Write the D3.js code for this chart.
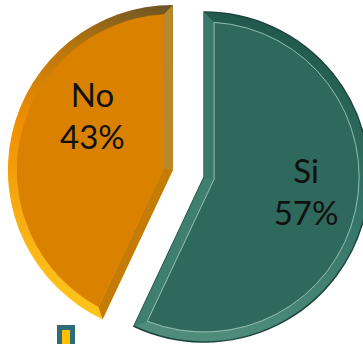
<!DOCTYPE html>
<html>
<head>
<meta charset="utf-8">
<script src="https://cdn.jsdelivr.net/npm/d3@7"></script>
<style>
  html, body { margin: 0; padding: 0; background: #fff; }
  svg { display: block; }
</style>
</head>
<body>
<div id="chart"></div>
<script>
const categories = ["Si", "No"];
const values = [57, 43];
const faceColors = ["#2F685C", "#DA8200"];

const WIDTH = 363, HEIGHT = 344;
const CENTER = [188.5, 173.5];
const RADIUS = 165;
const EXPLODE = 16;
const BEVEL = [10, 9];
// label anchor relative to each slice apex (angle in rad, distance px)
const LABEL_POS = [{ a: 98.4 * Math.PI / 180, d: 103 }, { a: 304 * Math.PI / 180, d: 97 }];

// bevel shading per slice: arc ring gradient + two straight edges
const SHADE = [
    { ring: [["0", "#21574B"], ["0.55", "#35766A"], ["1", "#4F8C7C"]], g: [[300, 20], [220, 340]],
      edge0: "#3A786A", edge1: "#3F7F70", rim: "#1C463D", line: "#B5D8CD" },
    { ring: [["0", "#6B5424"], ["0.22", "#B4740E"], ["0.5", "#EE8C00"], ["1", "#FFC41C"]], g: [[170, 5], [60, 300]],
      edge0: "#C47C06", edge1: "#B68A2A", rim: null, line: null }
];

const svg = d3.select("#chart").append("svg")
    .attr("width", WIDTH)
    .attr("height", HEIGHT);

const defs = svg.append("defs");

const pie = d3.pie().sort(null).value(d => d);
const arcs = pie(values);

function pt(c, a, r) {
    return [c[0] + r * Math.sin(a), c[1] - r * Math.cos(a)];
}

arcs.forEach((s, i) => {
    const sh = SHADE[i];
    const bis = (s.startAngle + s.endAngle) / 2;
    const half = (s.endAngle - s.startAngle) / 2;
    const A = pt(CENTER, bis, EXPLODE);
    const d = BEVEL[i];
    const r = RADIUS;
    const ri = r - d;
    const e = d / Math.sin(half);
    const I = pt(A, bis, e);
    const dq = Math.asin(d / ri);
    const P0 = pt(A, s.startAngle, r), P1 = pt(A, s.endAngle, r);
    const Q0 = pt(A, s.startAngle + dq, ri), Q1 = pt(A, s.endAngle - dq, ri);

    const grad = defs.append("linearGradient")
        .attr("id", "ring" + i)
        .attr("gradientUnits", "userSpaceOnUse")
        .attr("x1", sh.g[0][0]).attr("y1", sh.g[0][1])
        .attr("x2", sh.g[1][0]).attr("y2", sh.g[1][1]);
    sh.ring.forEach(st => grad.append("stop").attr("offset", st[0]).attr("stop-color", st[1]));

    const g = svg.append("g").attr("class", "slice");

    // outer slice (arc bevel)
    const outer = d3.path();
    outer.moveTo(A[0], A[1]);
    outer.lineTo(P0[0], P0[1]);
    outer.arc(A[0], A[1], r, s.startAngle - Math.PI / 2, s.endAngle - Math.PI / 2, false);
    outer.closePath();
    g.append("path")
        .attr("d", outer.toString())
        .attr("fill", `url(#ring${i})`)
        .attr("stroke", sh.rim || "none")
        .attr("stroke-width", 1.5);

    // straight edge bevels
    g.append("path")
        .attr("d", d3.line()([A, P0, Q0, I]) + "Z")
        .attr("fill", sh.edge0);
    g.append("path")
        .attr("d", d3.line()([A, P1, Q1, I]) + "Z")
        .attr("fill", sh.edge1);

    // flat face
    const face = d3.path();
    face.moveTo(I[0], I[1]);
    face.lineTo(Q0[0], Q0[1]);
    face.arc(A[0], A[1], ri, s.startAngle + dq - Math.PI / 2, s.endAngle - dq - Math.PI / 2, false);
    face.closePath();
    g.append("path")
        .attr("d", face.toString())
        .attr("fill", faceColors[i])
        .attr("stroke", sh.line || "none")
        .attr("stroke-opacity", 0.75)
        .attr("stroke-width", 1);

    // label
    const lp = pt(A, LABEL_POS[i].a, LABEL_POS[i].d);
    const t = g.append("text")
        .attr("text-anchor", "middle")
        .attr("font-family", "Lato, 'Open Sans', sans-serif")
        .attr("font-size", 33)
        .attr("fill", "#111");
    t.append("tspan").attr("x", lp[0]).attr("y", lp[1] - 9).text(categories[i]);
    t.append("tspan").attr("x", lp[0]).attr("y", lp[1] + 33).text(`${values[i]}%`);
});

// legend key (cut off at the bottom edge)
svg.append("rect")
    .attr("x", 59.5)
    .attr("y", 327.5)
    .attr("width", 13)
    .attr("height", 30)
    .attr("fill", "#FFC000")
    .attr("stroke", "#2F6B78")
    .attr("stroke-width", 5);
</script>
</body>
</html>
